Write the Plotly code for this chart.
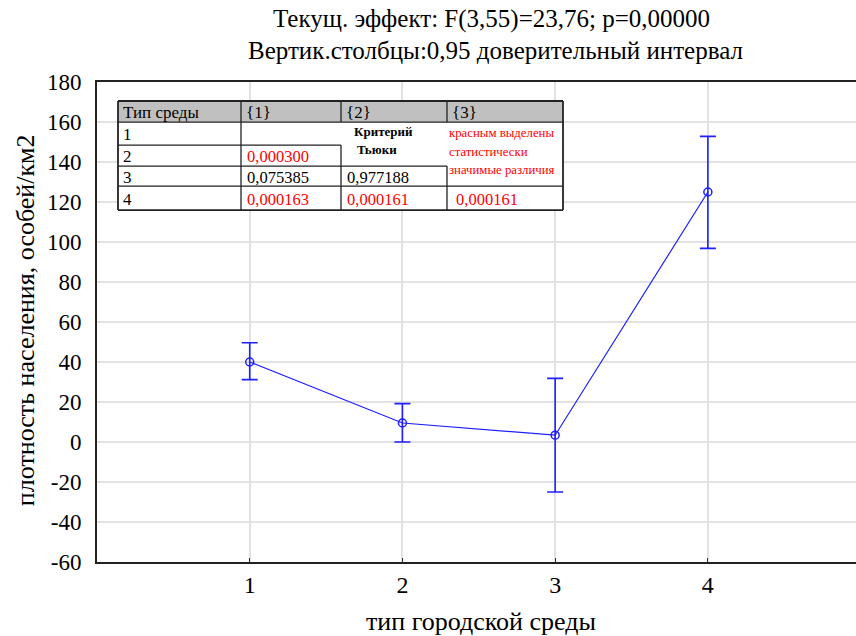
import plotly.graph_objects as go

# ---- data ----
env_types = [1, 2, 3, 4]
mean_density = [40.0, 9.5, 3.4, 125.0]
ci_upper = [49.6, 19.2, 31.8, 152.8]
ci_lower = [31.2, 0.0, -25.0, 96.8]

y_ticks = [-60, -40, -20, 0, 20, 40, 60, 80, 100, 120, 140, 160, 180]
y_tick_labels = ["-60", "-40", "-20", "0", "20", "40", "60", "80", "100", "120", "140", "160", "180"]
x_ticks = [1, 2, 3, 4]
x_tick_labels = ["1", "2", "3", "4"]

title_line1 = "Текущ. эффект: F(3,55)=23,76; p=0,00000"
title_line2 = "Вертик.столбцы:0,95 доверительный интервал"
x_title = "тип городской среды"
y_title = "плотность населения, особей/км2"

# Tukey table
table_header = ["Тип среды", "{1}", "{2}", "{3}"]
table_rows = ["1", "2", "3", "4"]
table_cells = [
    ["", "", ""],
    ["0,000300", "", ""],
    ["0,075385", "0,977188", ""],
    ["0,000163", "0,000161", "0,000161"],
]
table_significant = [
    [False, False, False],
    [True, False, False],
    [False, False, False],
    [True, True, True],
]
note_bold = ["Критерий", "Тьюки"]
note_red = ["красным выделены", "статистически", "значимые различия"]

# ---- layout geometry (pixels) ----
W, H = 856, 636
PL, PR, PT, PB = 97, 856, 82, 561.7

def px(x):
    return (x - PL) / (PR - PL)

def py(y):
    return (PB - y) / (PB - PT)

err_plus = [u - m for u, m in zip(ci_upper, mean_density)]
err_minus = [m - l for m, l in zip(mean_density, ci_lower)]

BLUE = "#1f1fff"
serif = "'Liberation Serif', 'Times New Roman', serif"

fig = go.Figure()
fig.add_trace(go.Scatter(
    x=env_types, y=mean_density, mode="lines+markers",
    line=dict(color=BLUE, width=1.2),
    marker=dict(symbol="circle-open", size=8, color=BLUE, line=dict(width=1.5, color=BLUE)),
    error_y=dict(type="data", symmetric=False, array=err_plus, arrayminus=err_minus,
                 color=BLUE, thickness=1.6, width=8),
    showlegend=False,
))

fig.update_layout(
    width=W, height=H,
    margin=dict(l=PL, r=W - PR, t=PT, b=H - PB, pad=0),
    paper_bgcolor="white", plot_bgcolor="white",
    font=dict(family=serif, color="black"),
    xaxis=dict(range=[0, 4.97], tickvals=x_ticks, ticktext=x_tick_labels,
               showgrid=True, gridcolor="#e2e2e2", gridwidth=1.5,
               showline=True, linecolor="#222", linewidth=2, mirror=True,
               ticks="inside", ticklen=4, tickcolor="#333",
               tickfont=dict(size=24, family=serif), zeroline=False),
    yaxis=dict(range=[-60, 180], tickvals=y_ticks, ticktext=y_tick_labels,
               showgrid=True, gridcolor="#e2e2e2", gridwidth=1.5,
               showline=True, linecolor="#222", linewidth=2, mirror=False,
               ticks="", tickfont=dict(size=23, family=serif), zeroline=False,
               ticklabelstandoff=9),
)

annotations = [
    dict(text=title_line1, x=px(491), y=py(19), xref="paper", yref="paper",
         showarrow=False, font=dict(size=25, family=serif), xanchor="center", yanchor="middle"),
    dict(text=title_line2, x=px(495), y=py(51), xref="paper", yref="paper",
         showarrow=False, font=dict(size=25, family=serif), xanchor="center", yanchor="middle"),
    dict(text=x_title, x=px(481), y=py(621), xref="paper", yref="paper",
         showarrow=False, font=dict(size=26, family=serif), xanchor="center", yanchor="middle"),
    dict(text=y_title, x=px(25), y=py(320), xref="paper", yref="paper", textangle=-90,
         showarrow=False, font=dict(size=26, family=serif), xanchor="center", yanchor="middle"),
]

# ---- table drawing ----
col_x = [118, 241, 341, 447, 563]
row_y = [101, 122, 145, 166, 186, 210]
shapes = []

def rect(x0, y0, x1, y1, fill):
    shapes.append(dict(type="rect", xref="paper", yref="paper",
                       x0=px(x0), x1=px(x1), y0=py(y1), y1=py(y0),
                       fillcolor=fill, line=dict(width=0), layer="above"))

def line(x0, y0, x1, y1, w=1.3):
    shapes.append(dict(type="line", xref="paper", yref="paper",
                       x0=px(x0), x1=px(x1), y0=py(y0), y1=py(y1),
                       line=dict(color="#222", width=w), layer="above"))

rect(col_x[0], row_y[1], col_x[4], row_y[5], "white")
rect(col_x[0], row_y[0], col_x[4], row_y[1], "#c0c0c0")
line(col_x[0], row_y[0], col_x[4], row_y[0], 1.8)
line(col_x[0], row_y[1], col_x[4], row_y[1])
line(col_x[0], row_y[2], col_x[2], row_y[2])
line(col_x[0], row_y[3], col_x[3], row_y[3])
line(col_x[0], row_y[4], col_x[4], row_y[4])
line(col_x[0], row_y[5], col_x[4], row_y[5], 1.8)
line(col_x[0], row_y[0], col_x[0], row_y[5], 1.8)
line(col_x[1], row_y[0], col_x[1], row_y[5])
line(col_x[2], row_y[0], col_x[2], row_y[1])
line(col_x[2], row_y[2], col_x[2], row_y[5])
line(col_x[3], row_y[0], col_x[3], row_y[1])
line(col_x[3], row_y[3], col_x[3], row_y[5])
line(col_x[4], row_y[0], col_x[4], row_y[5], 1.8)

def text(t, x, y, size=14, color="black", bold=False):
    annotations.append(dict(text=("<b>%s</b>" % t) if bold else t, x=px(x), y=py(y),
                            xref="paper", yref="paper", showarrow=False,
                            xanchor="left", yanchor="middle",
                            font=dict(size=size, family=serif, color=color)))

for j, h in enumerate(table_header):
    text(h, col_x[j] + 3, (row_y[0] + row_y[1]) / 2 + 1, size=17)
for i, r in enumerate(table_rows):
    yc = (row_y[i + 1] + row_y[i + 2]) / 2 + 1
    text(r, col_x[0] + 3, yc, size=17)
    for j, v in enumerate(table_cells[i]):
        if v:
            text(v, col_x[j + 1] + 4 + (3 if j == 2 else 0), yc, size=16.5,
                 color="red" if table_significant[i][j] else "black")

for k, t in enumerate(note_bold):
    text(t, 352 + 3 * k, 131 + 18 * k, size=13, bold=True)
for k, t in enumerate(note_red):
    text(t, 447, 133 + 18.5 * k, size=12.8, color="red")

fig.update_layout(shapes=shapes, annotations=annotations)
fig.write_html("out.html")
